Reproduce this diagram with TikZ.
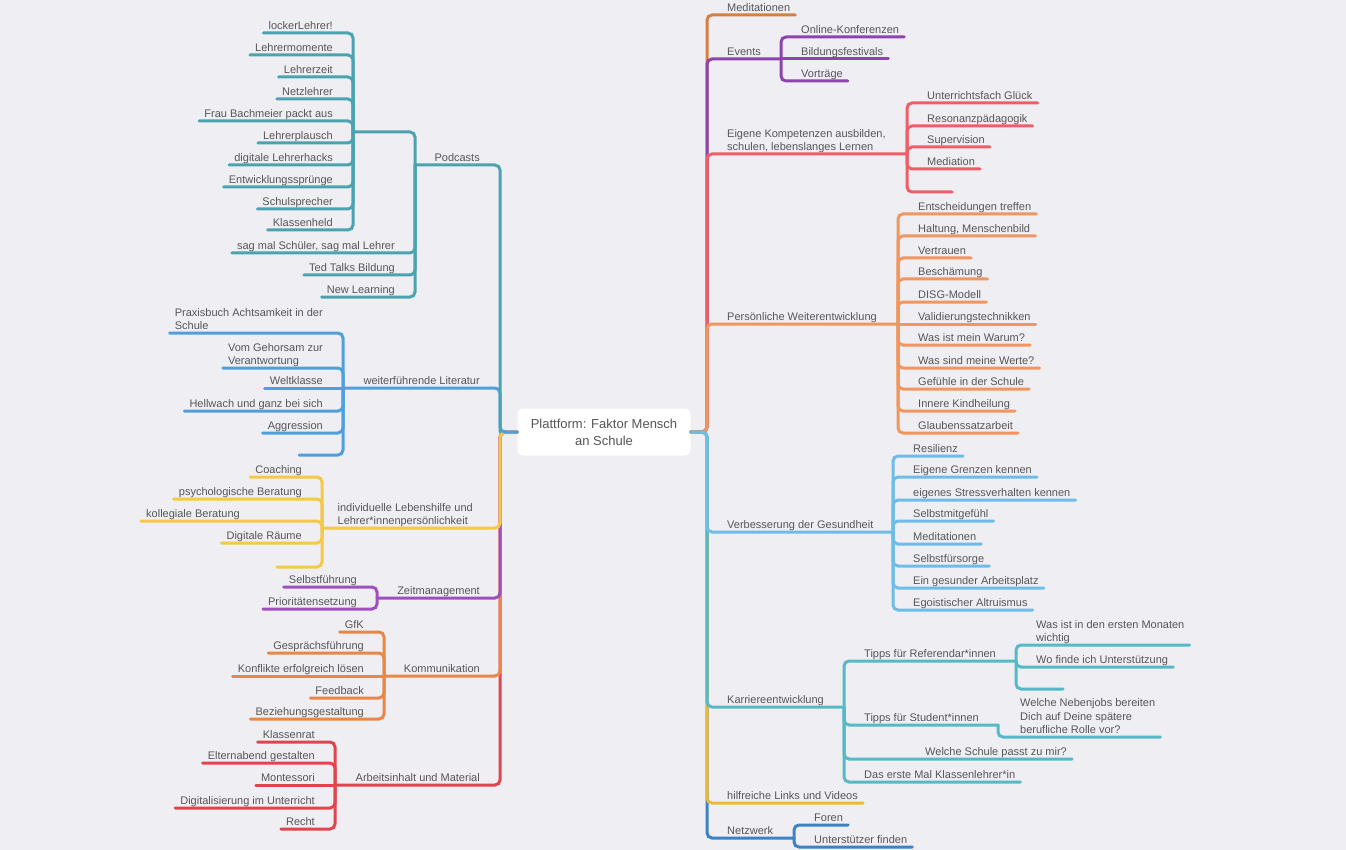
\documentclass[tikz,border=0pt]{standalone}
\usepackage{fontspec}
\setmainfont{Liberation Sans}
\usepackage{tikz}

\definecolor{bg}{RGB}{238,238,243}
\definecolor{txt}{RGB}{85,85,90}
\definecolor{cpod}{RGB}{75,163,176}
\definecolor{clit}{RGB}{77,160,220}
\definecolor{chelp}{RGB}{245,200,70}
\definecolor{czeit}{RGB}{160,80,190}
\definecolor{ckomm}{RGB}{232,135,70}
\definecolor{carb}{RGB}{224,68,76}
\definecolor{cmed}{RGB}{214,128,64}
\definecolor{cev}{RGB}{142,68,173}
\definecolor{ckomp}{RGB}{238,94,104}
\definecolor{cpers}{RGB}{242,150,95}
\definecolor{cges}{RGB}{110,188,232}
\definecolor{ckar}{RGB}{85,185,198}
\definecolor{clink}{RGB}{236,185,60}
\definecolor{cnetz}{RGB}{60,130,196}

\begin{document}
\begin{tikzpicture}[x=1pt, y=-1pt,
    every node/.style={font=\fontsize{11}{13.5}\selectfont, text=txt},
    rootbox/.style={fill=white, rounded corners=6pt, minimum width=173pt,
      minimum height=47pt, align=center, font=\fontsize{13}{17}\selectfont},
    lnode/.style={anchor=south east, inner xsep=5pt, inner ysep=0pt,
      align=left, execute at end node={\vrule height 0pt depth 3pt width 0pt}},
    rnode/.style={anchor=south west, inner xsep=5pt, inner ysep=0pt,
      align=left, execute at end node={\vrule height 0pt depth 3pt width 0pt}},
    brline/.style={line width=3pt, rounded corners=5pt, line cap=round}]
  \useasboundingbox (0,0) rectangle (1346,850);
  \fill[bg] (0,0) rectangle (1346,850);

  % Center
  \node[rootbox] (root) at (604,432) {Plattform: Faktor Mensch\\an Schule};
  \coordinate (lroot) at (500,432);
  \coordinate (rroot) at (707,432);

  % Left topics
  \node[lnode] (pod) at (485,165) {Podcasts};
  \coordinate (podB) at (415,165);
  \coordinate (podx) at (353,132);
  \node[lnode] (p1) at (338,33) {lockerLehrer!};
  \node[lnode] (p2) at (338,55) {Lehrermomente};
  \node[lnode] (p3) at (338,77) {Lehrerzeit};
  \node[lnode] (p4) at (338,99) {Netzlehrer};
  \node[lnode] (p5) at (338,121) {Frau Bachmeier packt aus};
  \node[lnode] (p6) at (338,143) {Lehrerplausch};
  \node[lnode] (p7) at (338,165) {digitale Lehrerhacks};
  \node[lnode] (p8) at (338,187) {Entwicklungssprünge};
  \node[lnode] (p9) at (338,209) {Schulsprecher};
  \node[lnode] (p10) at (338,230) {Klassenheld};
  \node[lnode] (p11) at (400,253) {sag mal Schüler, sag mal Lehrer};
  \node[lnode] (p12) at (400,275) {Ted Talks Bildung};
  \node[lnode] (p13) at (400,297) {New Learning};

  \node[lnode] (lit) at (485,388) {weiterführende Literatur};
  \coordinate (litB) at (343,388);
  \node[lnode] (lit1) at (328,333) {Praxisbuch Achtsamkeit in der\\Schule};
  \node[lnode] (lit2) at (328,368) {Vom Gehorsam zur\\Verantwortung};
  \node[lnode] (lit3) at (328,388) {Weltklasse};
  \node[lnode] (lit4) at (328,411) {Hellwach und ganz bei sich};
  \node[lnode] (lit5) at (328,433) {Aggression};
  \coordinate (lit6) at (299,455);

  \node[lnode] (help) at (478,528) {individuelle Lebenshilfe und\\Lehrer*innenpersönlichkeit};
  \coordinate (helpB) at (322,528);
  \node[lnode] (help1) at (307,477) {Coaching};
  \node[lnode] (help2) at (307,499) {psychologische Beratung};
  \node[rnode] (help3) at (141,521) {kollegiale Beratung};
  \node[lnode] (help4) at (307,543) {Digitale Räume};
  \coordinate (help5) at (277,567);

  \node[lnode] (zeit) at (485,598) {Zeitmanagement};
  \coordinate (zeitB) at (377,598);
  \node[lnode] (zeit1) at (362,587) {Selbstführung};
  \node[lnode] (zeit2) at (362,609) {Prioritätensetzung};

  \node[lnode] (komm) at (485,676) {Kommunikation};
  \coordinate (kommB) at (384,676);
  \node[lnode] (komm1) at (369,632) {GfK};
  \node[lnode] (komm2) at (369,653) {Gesprächsführung};
  \node[lnode] (komm3) at (369,676) {Konflikte erfolgreich lösen};
  \node[lnode] (komm4) at (369,698) {Feedback};
  \node[lnode] (komm5) at (369,719) {Beziehungsgestaltung};

  \node[lnode] (arb) at (485,785) {Arbeitsinhalt und Material};
  \coordinate (arbB) at (335,785);
  \node[lnode] (arb1) at (320,742) {Klassenrat};
  \node[lnode] (arb2) at (320,763) {Elternabend gestalten};
  \node[lnode] (arb3) at (320,785) {Montessori};
  \node[lnode] (arb4) at (320,808) {Digitalisierung im Unterricht};
  \node[lnode] (arb5) at (320,829) {Recht};

  % Right topics
  \node[rnode] (med) at (722,15) {Meditationen};

  \node[rnode] (ev) at (722,59) {Events};
  \coordinate (evB) at (781,59);
  \node[rnode] (ev1) at (796,37) {Online-Konferenzen};
  \node[rnode] (ev2) at (796,59) {Bildungsfestivals};
  \node[rnode] (ev3) at (796,81) {Vorträge};

  \node[rnode] (komp) at (722,154) {Eigene Kompetenzen ausbilden,\\schulen, lebenslanges Lernen};
  \coordinate (kompB) at (907,154);
  \node[rnode] (komp1) at (922,103) {Unterrichtsfach Glück};
  \node[rnode] (komp2) at (922,126) {Resonanzpädagogik};
  \node[rnode] (komp3) at (922,147) {Supervision};
  \node[rnode] (komp4) at (922,169) {Mediation};
  \coordinate (komp5) at (952,192);

  \node[rnode] (pers) at (722,324) {Persönliche Weiterentwicklung};
  \coordinate (persB) at (898,324);
  \node[rnode] (pers1) at (913,214) {Entscheidungen treffen};
  \node[rnode] (pers2) at (913,236) {Haltung, Menschenbild};
  \node[rnode] (pers3) at (913,258) {Vertrauen};
  \node[rnode] (pers4) at (913,279) {Beschämung};
  \node[rnode] (pers5) at (913,302) {DISG-Modell};
  \node[rnode] (pers6) at (913,324) {Validierungstechnikken};
  \node[rnode] (pers7) at (913,345) {Was ist mein Warum?};
  \node[rnode] (pers8) at (913,368) {Was sind meine Werte?};
  \node[rnode] (pers9) at (913,389) {Gefühle in der Schule};
  \node[rnode] (pers10) at (913,411) {Innere Kindheilung};
  \node[rnode] (pers11) at (913,433) {Glaubenssatzarbeit};

  \node[rnode] (ges) at (722,532) {Verbesserung der Gesundheit};
  \coordinate (gesB) at (893,532);
  \node[rnode] (ges1) at (908,456) {Resilienz};
  \node[rnode] (ges2) at (908,477) {Eigene Grenzen kennen};
  \node[rnode] (ges3) at (908,500) {eigenes Stressverhalten kennen};
  \node[rnode] (ges4) at (908,521) {Selbstmitgefühl};
  \node[rnode] (ges5) at (908,544) {Meditationen};
  \node[rnode] (ges6) at (908,566) {Selbstfürsorge};
  \node[rnode] (ges7) at (908,588) {Ein gesunder Arbeitsplatz};
  \node[rnode] (ges8) at (908,610) {Egoistischer Altruismus};

  \node[rnode] (kar) at (722,707) {Karriereentwicklung};
  \coordinate (karB) at (844,707);
  \node[rnode] (ref) at (859,661) {Tipps für Referendar*innen};
  \coordinate (refB) at (1016,661);
  \node[rnode] (ref1) at (1031,645) {Was ist in den ersten Monaten\\wichtig};
  \node[rnode] (ref2) at (1031,667) {Wo finde ich Unterstützung};
  \coordinate (ref3) at (1063,689);
  \node[rnode] (stu) at (859,725) {Tipps für Student*innen};
  \coordinate (stuB) at (998,725);
  \node[rnode] (stu1) at (1015,737) {Welche Nebenjobs bereiten\\Dich auf Deine spätere\\berufliche Rolle vor?};
  \node[rnode] (kar3) at (920,759) {Welche Schule passt zu mir?};
  \node[rnode] (kar4) at (859,782) {Das erste Mal Klassenlehrer*in};

  \node[rnode] (hlink) at (722,803) {hilfreiche Links und Videos};

  \node[rnode] (netz) at (722,838) {Netzwerk};
  \coordinate (netzB) at (794,838);
  \node[rnode] (netz1) at (809,825) {Foren};
  \node[rnode] (netz2) at (809,847) {Unterstützer finden};

  % Edges, left trunk
  \draw[brline, carb] (root.west) -- (lroot) |- (arbB);
  \draw[brline, ckomm] (root.west) -- (lroot) |- (kommB);
  \draw[brline, czeit] (root.west) -- (lroot) |- (zeitB);
  \draw[brline, chelp] (root.west) -- (lroot) |- (helpB);
  \draw[brline, clit] (root.west) -- (lroot) |- (litB);
  \draw[brline, cpod] (lroot) |- (podB);

  % Edges, right trunk
  \draw[brline, cmed] (root.east) -- (rroot) |- (med.south east);
  \draw[brline, cnetz] (root.east) -- (rroot) |- (netzB);
  \draw[brline, cev] (root.east) -- (rroot) |- (evB);
  \draw[brline, clink] (root.east) -- (rroot) |- (hlink.south east);
  \draw[brline, ckomp] (root.east) -- (rroot) |- (kompB);
  \draw[brline, ckar] (root.east) -- (rroot) |- (karB);
  \draw[brline, cpers] (root.east) -- (rroot) |- (persB);
  \draw[brline, cges] (root.east) -- (rroot) |- (gesB);

  % Edges, Podcasts
  \draw[brline, cpod] (podB) |- (podx);
  \draw[brline, cpod] (podx) |- (p1.south west);
  \draw[brline, cpod] (podx) |- (p2.south west);
  \draw[brline, cpod] (podx) |- (p3.south west);
  \draw[brline, cpod] (podx) |- (p4.south west);
  \draw[brline, cpod] (podx) |- (p5.south west);
  \draw[brline, cpod] (podx) |- (p6.south west);
  \draw[brline, cpod] (podx) |- (p7.south west);
  \draw[brline, cpod] (podx) |- (p8.south west);
  \draw[brline, cpod] (podx) |- (p9.south west);
  \draw[brline, cpod] (podx) |- (p10.south west);
  \draw[brline, cpod] (podB) |- (p11.south west);
  \draw[brline, cpod] (podB) |- (p12.south west);
  \draw[brline, cpod] (podB) |- (p13.south west);

  % Edges, Literatur
  \draw[brline, clit] (litB) |- (lit1.south west);
  \draw[brline, clit] (litB) |- (lit2.south west);
  \draw[brline, clit] (litB) -- (lit3.south west);
  \draw[brline, clit] (litB) |- (lit4.south west);
  \draw[brline, clit] (litB) |- (lit5.south west);
  \draw[brline, clit] (litB) |- (lit6);

  % Edges, Lebenshilfe
  \draw[brline, chelp] (helpB) |- (help1.south west);
  \draw[brline, chelp] (helpB) |- (help2.south west);
  \draw[brline, chelp] (helpB) |- (help3.south west);
  \draw[brline, chelp] (helpB) |- (help4.south west);
  \draw[brline, chelp] (helpB) |- (help5);

  % Edges, Zeitmanagement and Kommunikation
  \draw[brline, czeit] (zeitB) |- (zeit1.south west);
  \draw[brline, czeit] (zeitB) |- (zeit2.south west);
  \draw[brline, ckomm] (kommB) |- (komm1.south west);
  \draw[brline, ckomm] (kommB) |- (komm2.south west);
  \draw[brline, ckomm] (kommB) -- (komm3.south west);
  \draw[brline, ckomm] (kommB) |- (komm4.south west);
  \draw[brline, ckomm] (kommB) |- (komm5.south west);

  % Edges, Arbeitsinhalt
  \draw[brline, carb] (arbB) |- (arb1.south west);
  \draw[brline, carb] (arbB) |- (arb2.south west);
  \draw[brline, carb] (arbB) -- (arb3.south west);
  \draw[brline, carb] (arbB) |- (arb4.south west);
  \draw[brline, carb] (arbB) |- (arb5.south west);

  % Edges, Events and Kompetenzen
  \draw[brline, cev] (evB) |- (ev1.south east);
  \draw[brline, cev] (evB) -- (ev2.south east);
  \draw[brline, cev] (evB) |- (ev3.south east);
  \draw[brline, ckomp] (kompB) |- (komp1.south east);
  \draw[brline, ckomp] (kompB) |- (komp2.south east);
  \draw[brline, ckomp] (kompB) |- (komp3.south east);
  \draw[brline, ckomp] (kompB) |- (komp4.south east);
  \draw[brline, ckomp] (kompB) |- (komp5);

  % Edges, Weiterentwicklung
  \draw[brline, cpers] (persB) |- (pers1.south east);
  \draw[brline, cpers] (persB) |- (pers2.south east);
  \draw[brline, cpers] (persB) |- (pers3.south east);
  \draw[brline, cpers] (persB) |- (pers4.south east);
  \draw[brline, cpers] (persB) |- (pers5.south east);
  \draw[brline, cpers] (persB) -- (pers6.south east);
  \draw[brline, cpers] (persB) |- (pers7.south east);
  \draw[brline, cpers] (persB) |- (pers8.south east);
  \draw[brline, cpers] (persB) |- (pers9.south east);
  \draw[brline, cpers] (persB) |- (pers10.south east);
  \draw[brline, cpers] (persB) |- (pers11.south east);

  % Edges, Gesundheit
  \draw[brline, cges] (gesB) |- (ges1.south east);
  \draw[brline, cges] (gesB) |- (ges2.south east);
  \draw[brline, cges] (gesB) |- (ges3.south east);
  \draw[brline, cges] (gesB) |- (ges4.south east);
  \draw[brline, cges] (gesB) |- (ges5.south east);
  \draw[brline, cges] (gesB) |- (ges6.south east);
  \draw[brline, cges] (gesB) |- (ges7.south east);
  \draw[brline, cges] (gesB) |- (ges8.south east);

  % Edges, Karriere
  \draw[brline, ckar] (karB) |- (refB);
  \draw[brline, ckar] (refB) |- (ref1.south east);
  \draw[brline, ckar] (refB) |- (ref2.south east);
  \draw[brline, ckar] (refB) |- (ref3);
  \draw[brline, ckar] (karB) |- (stuB);
  \draw[brline, ckar] (stuB) |- (stu1.south east);
  \draw[brline, ckar] (karB) |- (kar3.south east);
  \draw[brline, ckar] (karB) |- (kar4.south east);

  % Edges, Netzwerk
  \draw[brline, cnetz] (netzB) |- (netz1.south east);
  \draw[brline, cnetz] (netzB) |- (netz2.south east);
\end{tikzpicture}
\end{document}
